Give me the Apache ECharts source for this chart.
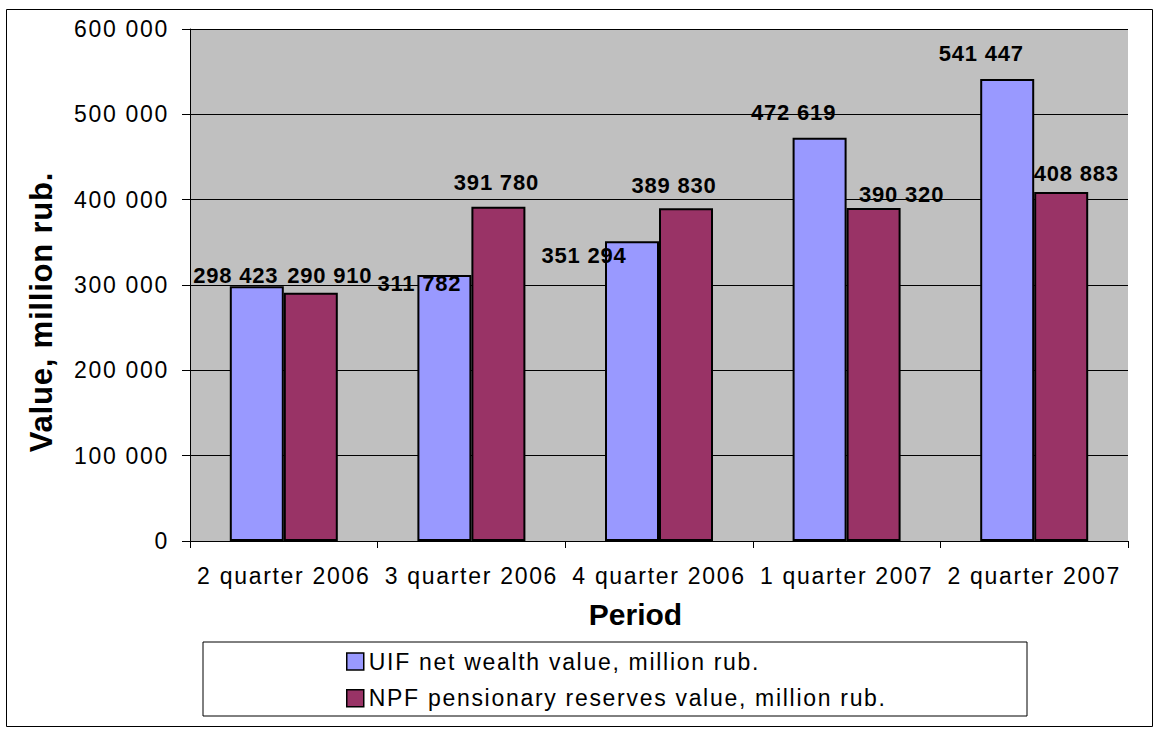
<!DOCTYPE html>
<html>
<head>
<meta charset="utf-8">
<title>UIF vs NPF</title>
<script src="https://cdn.jsdelivr.net/npm/echarts@6/dist/echarts.min.js"></script>
<style>
  html, body { margin: 0; padding: 0; background: #fff; }
  #chart { width: 1156px; height: 733px; }
  /* wide GDI-style tracking for the chart text */
  #chart text { letter-spacing: 1.7px; }
  #chart text[style*="bold"] { letter-spacing: 0.8px; }
  #chart text[style*="30px"] { letter-spacing: 0px; }
</style>
</head>
<body>
<div id="chart"></div>
<script>
// Periods and values, million rub.
const categories = ['2 quarter 2006', '3 quarter 2006', '4 quarter 2006', '1 quarter 2007', '2 quarter 2007'];
const uifValues = [298423, 311782, 351294, 472619, 541447];
const npfValues = [290910, 391780, 389830, 390320, 408883];
const yTickLabels = ['0', '100 000', '200 000', '300 000', '400 000', '500 000', '600 000'];
const seriesNames = ['UIF net wealth value, million rub.', 'NPF pensionary reserves value, million rub.'];

// hand-placed value label nudges [dx, dy] in px
const uifLabelNudge = [[-21, 0], [-25, 20], [-48, 25], [-26, -14], [-26, -14]];
const npfLabelNudge = [[19, -6], [-2, -13], [-12, -12], [28, -2], [15, -8]];

const FONT = 'Liberation Sans, Arial, sans-serif';
const fmt = v => String(v).replace(/\B(?=(\d{3})+(?!\d))/g, ' ');

const chart = echarts.init(document.getElementById('chart'), null, { renderer: 'svg' });

const labelStyle = {
  show: true,
  position: 'top',
  distance: 0,
  color: '#000',
  fontFamily: FONT,
  fontWeight: 'bold',
  fontSize: 22,
  formatter: p => fmt(p.value)
};

chart.setOption({
  animation: false,
  backgroundColor: '#fff',
  grid: { left: 190, right: 28, top: 29, bottom: 192, show: true, backgroundColor: '#c0c0c0', borderWidth: 0 },
  xAxis: {
    type: 'category',
    data: categories,
    axisLine: { lineStyle: { color: '#000', width: 1 } },
    axisTick: { show: true, length: 7, lineStyle: { color: '#000' } },
    axisLabel: { color: '#000', fontFamily: FONT, fontSize: 23, margin: 23, interval: 0 }
  },
  yAxis: {
    type: 'value',
    min: 0,
    max: 600000,
    interval: 100000,
    axisLine: { show: true, lineStyle: { color: '#000', width: 1 } },
    axisTick: { show: true, length: 8, lineStyle: { color: '#000' } },
    splitLine: { lineStyle: { color: '#000', width: 1 } },
    axisLabel: {
      color: '#000', fontFamily: FONT, fontSize: 23, margin: 21,
      formatter: v => yTickLabels[Math.round(v / 100000)]
    }
  },
  legend: {
    orient: 'vertical',
    left: 346,
    top: 650,
    padding: 0,
    itemWidth: 17,
    itemHeight: 17,
    itemGap: 13.7,
    icon: 'rect',
    itemStyle: { borderColor: '#000', borderWidth: 1.5 },
    textStyle: { color: '#000', fontFamily: FONT, fontSize: 23 },
    data: seriesNames
  },
  series: [
    {
      name: seriesNames[0],
      type: 'bar',
      barWidth: 54,
      barGap: '0%',
      itemStyle: { color: '#9999ff', borderColor: '#000', borderWidth: 2 },
      label: labelStyle,
      data: uifValues.map((v, i) => ({ value: v, label: { offset: uifLabelNudge[i] } }))
    },
    {
      name: seriesNames[1],
      type: 'bar',
      barWidth: 54,
      barGap: '0%',
      itemStyle: { color: '#993366', borderColor: '#000', borderWidth: 2 },
      label: labelStyle,
      data: npfValues.map((v, i) => ({ value: v, label: { offset: npfLabelNudge[i] } }))
    }
  ],
  graphic: {
    elements: [
      {
        type: 'rect', z: -10, silent: true,
        shape: { x: 6.5, y: 9.5, width: 1146, height: 717 },
        style: { fill: 'none', stroke: '#000', lineWidth: 1 }
      },
      {
        type: 'rect', z: 0, silent: true,
        shape: { x: 203, y: 642, width: 824, height: 74 },
        style: { fill: '#fff', stroke: '#000', lineWidth: 1 }
      },
      {
        type: 'text', silent: true, x: 635.5, y: 614,
        style: { text: 'Period', fill: '#000', font: 'bold 30px ' + FONT, align: 'center', verticalAlign: 'middle', textAlign: 'center', textVerticalAlign: 'middle' }
      },
      {
        type: 'text', silent: true, x: 41, y: 312, rotation: Math.PI / 2,
        style: { text: 'Value, million rub.', fill: '#000', font: 'bold 31px ' + FONT, align: 'center', verticalAlign: 'middle', textAlign: 'center', textVerticalAlign: 'middle' }
      }
    ]
  }
});
</script>
</body>
</html>
